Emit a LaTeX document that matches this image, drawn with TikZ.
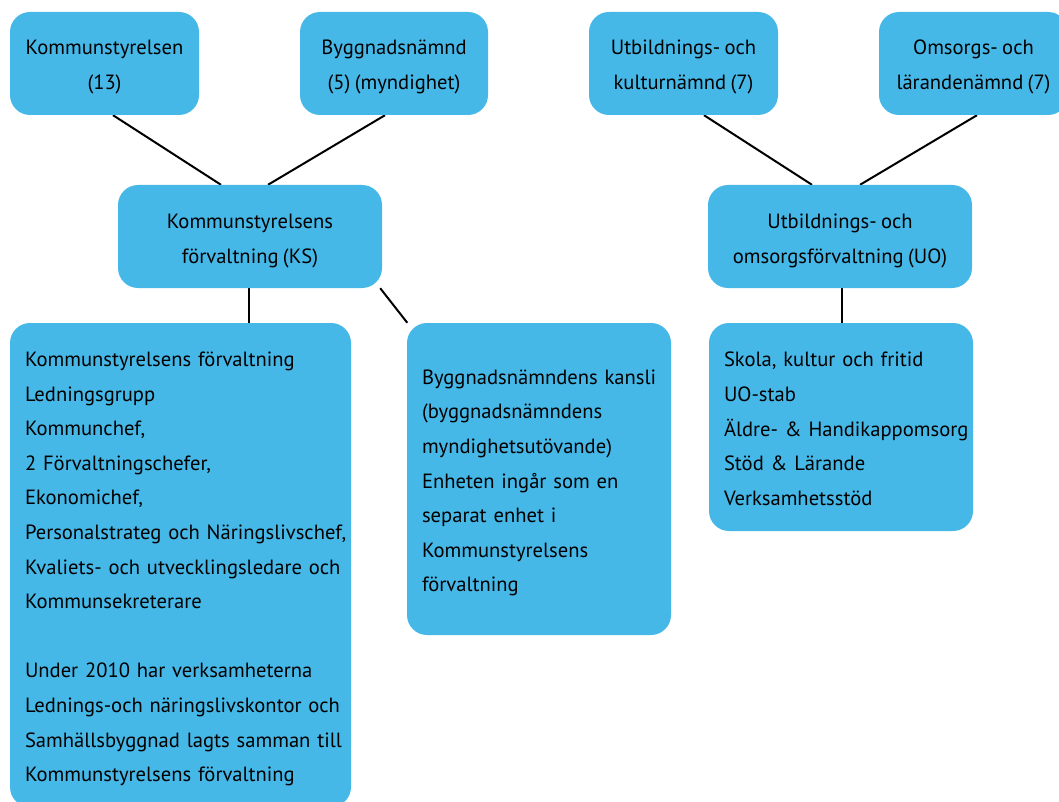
\documentclass[tikz,border=0pt]{standalone}
\usepackage{fontspec}
\setmainfont{PT Sans}[WordSpace=0.8]
\usetikzlibrary{backgrounds,calc}
\definecolor{boxblue}{RGB}{70,184,232}
\newcommand\myTop{\rule{0pt}{24pt}}
\newcommand\myBot{\rule[-6pt]{0pt}{6pt}}
\tikzset{
  orgbox/.style={fill=boxblue, draw=none, rounded corners=20pt, inner sep=0pt,
    font=\fontsize{20.6}{35}\selectfont, align=center},
  listbox/.style={fill=boxblue, draw=none, rounded corners=20pt, inner xsep=15pt, inner ysep=0pt,
    font=\fontsize{20.6}{34.6}\selectfont, align=left},
  link/.style={draw=black, line width=2pt}
}
\begin{document}
\begin{tikzpicture}[x=1pt,y=-1pt]
\useasboundingbox (0,0) rectangle (1059,802);
\clip (0,0) rectangle (1059,802);
\node[orgbox, minimum width=189pt, minimum height=103pt] (kst) at (104.5,63.5) {\myTop Kommunstyrelsen\\(13)\myBot};
\node[orgbox, minimum width=188pt, minimum height=103pt] (byg) at (394,63.5) {\myTop Byggnadsnämnd\\(5) (myndighet)\myBot};
\node[orgbox, minimum width=189pt, minimum height=103pt] (utb) at (683.5,63.5) {\myTop Utbildnings- och\\kulturnämnd (7)\myBot};
\node[orgbox, minimum width=189pt, minimum height=103pt] (oms) at (973.5,63.5) {\myTop Omsorgs- och\\lärandenämnd (7)\myBot};
\node[orgbox, minimum width=264pt, minimum height=103pt] (ksf) at (250,236.5) {\myTop Kommunstyrelsens\\förvaltning (KS)\myBot};
\node[orgbox, minimum width=264pt, minimum height=103pt] (uo) at (840,236.5) {\myTop Utbildnings- och\\omsorgsförvaltning (UO)\myBot};
\node[listbox, text width=311pt, minimum height=484pt] (big) at (180.5,565) {\myTop\mbox{Kommunstyrelsens förvaltning}\\\mbox{Ledningsgrupp}\\\mbox{Kommunchef,}\\\mbox{2 Förvaltningschefer,}\\\mbox{Ekonomichef,}\\\mbox{Personalstrateg och Näringslivschef,}\\\mbox{Kvaliets- och utvecklingsledare och}\\\mbox{Kommunsekreterare}\\[34.6pt]\mbox{Under 2010 har verksamheterna}\\\mbox{Lednings-och näringslivskontor och}\\\mbox{Samhällsbyggnad lagts samman till}\\\mbox{Kommunstyrelsens förvaltning}\myBot};
\node[listbox, text width=234pt, minimum height=312pt] (kansli) at (539,479) {\myTop\mbox{Byggnadsnämndens kansli}\\\mbox{(byggnadsnämndens}\\\mbox{myndighetsutövande)}\\\mbox{Enheten ingår som en}\\\mbox{separat enhet i}\\\mbox{Kommunstyrelsens}\\\mbox{förvaltning}\myBot};
\node[listbox, text width=234pt, minimum height=208pt] (uoc) at (841,427) {\myTop\mbox{Skola, kultur och fritid}\\\mbox{UO-stab}\\\mbox{Äldre- \& Handikappomsorg}\\\mbox{Stöd \& Lärande}\\\mbox{Verksamhetsstöd}\myBot};
\begin{pgfonlayer}{background}
\draw[link] ([xshift=8.5pt]kst.south) -- ([xshift=-29pt]ksf.north);
\draw[link] ([xshift=-9pt]byg.south) -- ([xshift=18pt]ksf.north);
\draw[link] ([xshift=20.5pt]utb.south) -- ([xshift=-28pt]uo.north);
\draw[link] ([xshift=3.5pt]oms.south) -- ([xshift=20pt]uo.north);
\draw[link] ([xshift=-1pt]ksf.south) -- ([xshift=-1pt]ksf.south |- big.north);
\draw[link] ([xshift=-2pt]ksf.south east) -- ([xshift=0.5pt]kansli.north west);
\draw[link] ([xshift=2pt]uo.south) -- ([xshift=2pt]uo.south |- uoc.north);
\end{pgfonlayer}
\end{tikzpicture}
\end{document}
